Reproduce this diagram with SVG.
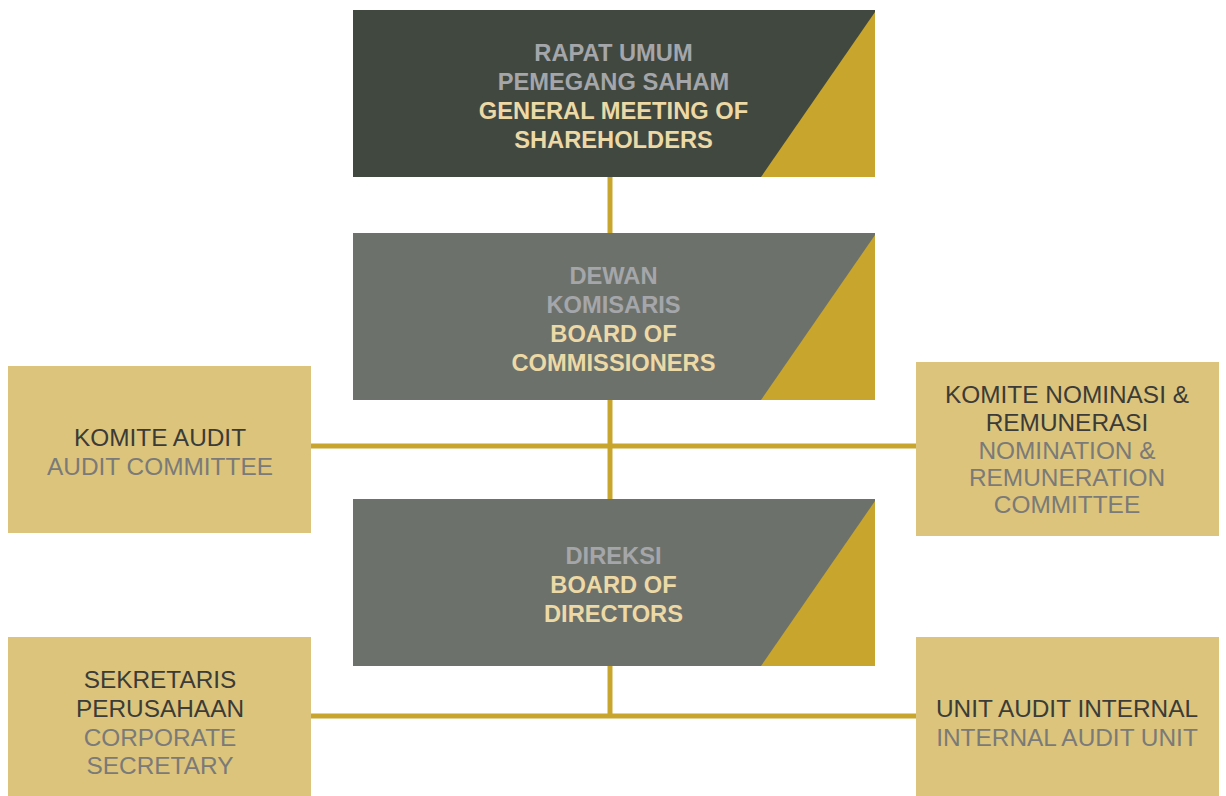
<svg xmlns="http://www.w3.org/2000/svg" width="1226" height="796" viewBox="0 0 1226 796">
  <style>
    .main text { font-family: "Liberation Sans", Arial, sans-serif; font-weight: bold; font-size: 23.7px; text-anchor: middle; }
    .side text { font-family: "Liberation Sans", Arial, sans-serif; font-size: 24.4px; text-anchor: middle; }
    .id { fill: #a4a6aa; }
    .en { fill: #ecd9a6; }
    .dk { fill: #3b3b37; }
    .gy { fill: #7a7a78; }
    .gold { fill: #c8a52c; }
    .pale { fill: #dcc47c; }
    .line { stroke: #c8a52c; stroke-width: 5; fill: none; }
  </style>
  <rect width="1226" height="796" fill="#ffffff"/>

  <!-- connectors -->
  <g id="connectors">
    <line class="line" x1="610" y1="177" x2="610" y2="233"/>
    <line class="line" x1="610" y1="400" x2="610" y2="499"/>
    <line class="line" x1="610" y1="666" x2="610" y2="716"/>
    <line class="line" x1="311" y1="446" x2="916" y2="446"/>
    <line class="line" x1="311" y1="716" x2="916" y2="716"/>
  </g>

  <!-- General Meeting of Shareholders -->
  <g id="gms" class="main">
    <rect x="353" y="10" width="522" height="167" fill="#414840"/>
    <polygon class="gold" points="761,177 875,177 875,12"/>
    <text class="id" x="613.5" y="61">RAPAT UMUM</text>
    <text class="id" x="613.5" y="90">PEMEGANG SAHAM</text>
    <text class="en" x="613.5" y="119">GENERAL MEETING OF</text>
    <text class="en" x="613.5" y="148">SHAREHOLDERS</text>
  </g>

  <!-- Board of Commissioners -->
  <g id="boc" class="main">
    <rect x="353" y="233" width="522" height="167" fill="#6d716b"/>
    <polygon class="gold" points="761,400 875,400 875,235"/>
    <text class="id" x="613.5" y="284">DEWAN</text>
    <text class="id" x="613.5" y="313">KOMISARIS</text>
    <text class="en" x="613.5" y="342">BOARD OF</text>
    <text class="en" x="613.5" y="371">COMMISSIONERS</text>
  </g>

  <!-- Board of Directors -->
  <g id="bod" class="main">
    <rect x="353" y="499" width="522" height="167" fill="#6d716b"/>
    <polygon class="gold" points="761,666 875,666 875,501"/>
    <text class="id" x="613.5" y="564">DIREKSI</text>
    <text class="en" x="613.5" y="593">BOARD OF</text>
    <text class="en" x="613.5" y="622">DIRECTORS</text>
  </g>

  <!-- Audit Committee -->
  <g id="audit-committee" class="side">
    <rect class="pale" x="8" y="366" width="303" height="167"/>
    <text class="dk" x="160" y="446">KOMITE AUDIT</text>
    <text class="gy" x="160" y="475">AUDIT COMMITTEE</text>
  </g>

  <!-- Nomination & Remuneration Committee -->
  <g id="nomination-committee" class="side">
    <rect class="pale" x="916" y="362" width="303" height="174"/>
    <text class="dk" x="1067" y="403">KOMITE NOMINASI &amp;</text>
    <text class="dk" x="1067" y="431">REMUNERASI</text>
    <text class="gy" x="1067" y="459">NOMINATION &amp;</text>
    <text class="gy" x="1067" y="486">REMUNERATION</text>
    <text class="gy" x="1067" y="513">COMMITTEE</text>
  </g>

  <!-- Corporate Secretary -->
  <g id="corporate-secretary" class="side">
    <rect class="pale" x="8" y="637" width="303" height="159"/>
    <text class="dk" x="160" y="688">SEKRETARIS</text>
    <text class="dk" x="160" y="717">PERUSAHAAN</text>
    <text class="gy" x="160" y="746">CORPORATE</text>
    <text class="gy" x="160" y="774">SECRETARY</text>
  </g>

  <!-- Internal Audit Unit -->
  <g id="internal-audit" class="side">
    <rect class="pale" x="916" y="637" width="303" height="159"/>
    <text class="dk" x="1067" y="717">UNIT AUDIT INTERNAL</text>
    <text class="gy" x="1067" y="746">INTERNAL AUDIT UNIT</text>
  </g>
</svg>
